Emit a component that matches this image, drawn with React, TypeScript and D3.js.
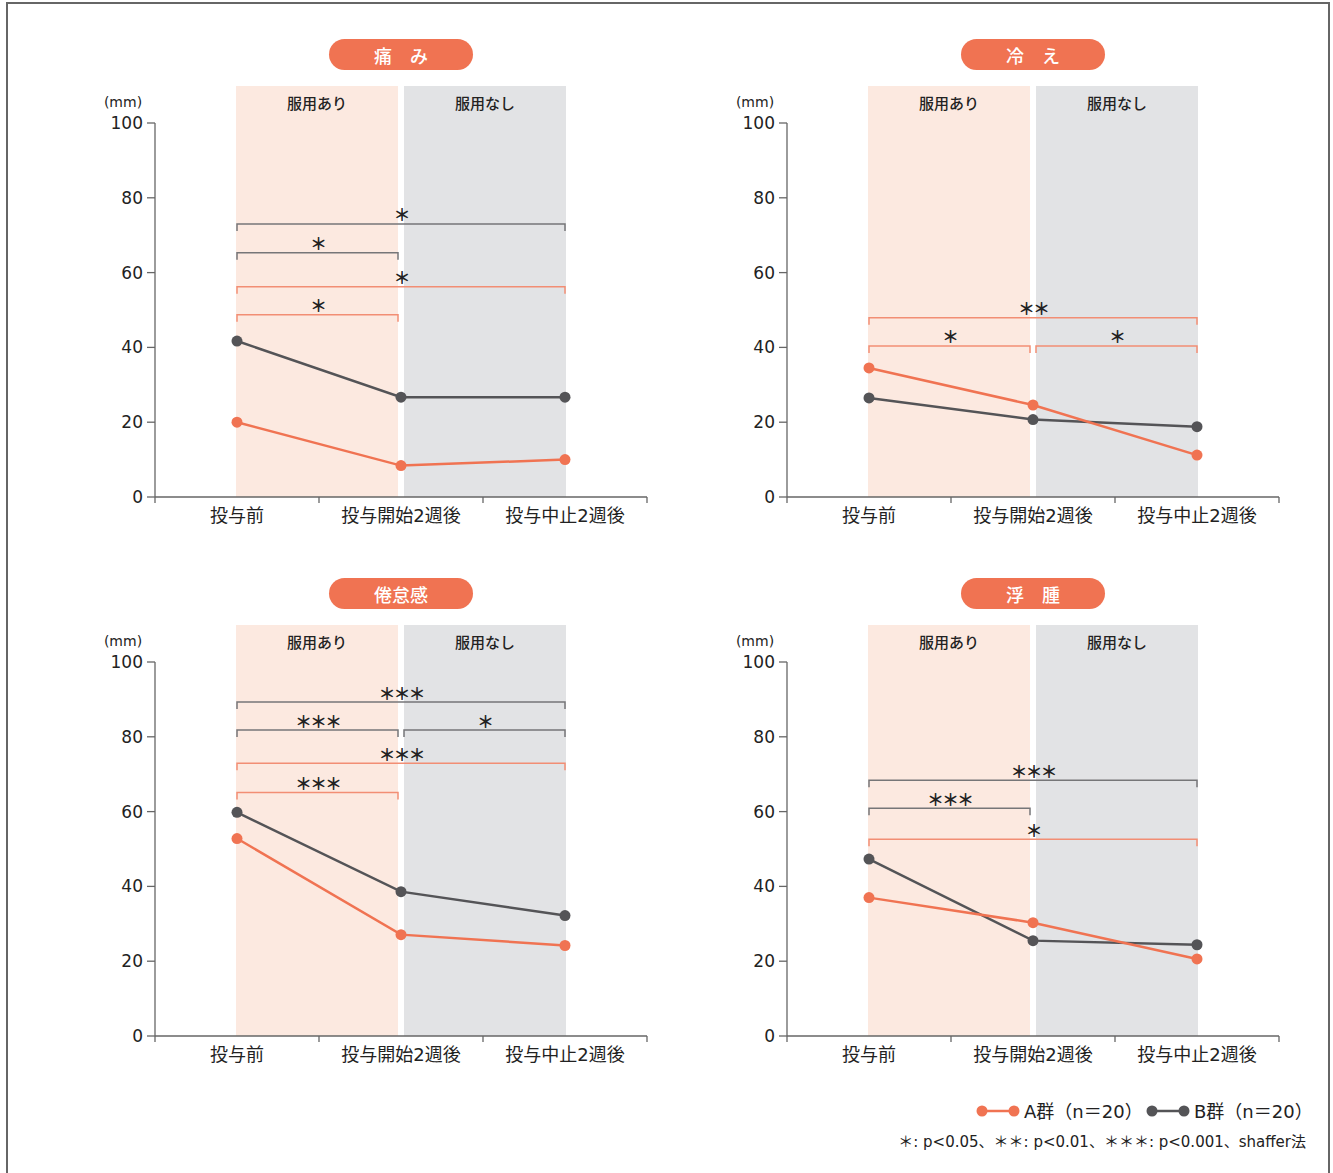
import React from "react";
import * as d3 from "d3";

const categories = ["投与前", "投与開始2週後", "投与中止2週後"];
const titles = ["痛　み", "冷　え", "倦怠感", "浮　腫"];
const phaseLabels = ["服用あり", "服用なし"];
const yTicks = [0, 20, 40, 60, 80, 100];

const groupA = [
  [20, 8.4, 10],
  [34.5, 24.6, 11.2],
  [52.8, 27.1, 24.2],
  [37, 30.3, 20.6],
];
const groupB = [
  [41.7, 26.7, 26.7],
  [26.5, 20.7, 18.8],
  [59.8, 38.6, 32.2],
  [47.3, 25.5, 24.4],
];
// [fromIndex, toIndex, level (mm), group, label]
const brackets1: [number, number, number, string, string][] = [
  [0, 2, 73, "B", "＊"],
  [0, 1, 65.3, "B", "＊"],
  [0, 2, 56.2, "A", "＊"],
  [0, 1, 48.7, "A", "＊"],
];
const brackets2: [number, number, number, string, string][] = [
  [0, 2, 47.9, "A", "＊＊"],
  [0, 1, 40.4, "A", "＊"],
  [1, 2, 40.4, "A", "＊"],
];
const brackets3: [number, number, number, string, string][] = [
  [0, 2, 89.3, "B", "＊＊＊"],
  [0, 1, 81.8, "B", "＊＊＊"],
  [1, 2, 81.8, "B", "＊"],
  [0, 2, 72.9, "A", "＊＊＊"],
  [0, 1, 65.1, "A", "＊＊＊"],
];
const brackets4: [number, number, number, string, string][] = [
  [0, 2, 68.4, "B", "＊＊＊"],
  [0, 1, 60.9, "B", "＊＊＊"],
  [0, 2, 52.6, "A", "＊"],
];
const brackets = [brackets1, brackets2, brackets3, brackets4];
const legendLabels = ["A群（n＝20）", "B群（n＝20）"];
const footnote = "＊: p<0.05、＊＊: p<0.01、＊＊＊: p<0.001、shaffer法";

const ORANGE = "#f07352";
const ORANGE_LIGHT = "#f28e74";
const DARK = "#545457";
const GRAY_BR = "#767678";
const PINK = "#fce9e0";
const GRAYBG = "#e2e3e5";
const FONT = "'DejaVu Sans', 'Noto Sans CJK JP', sans-serif";
const CJK = "'Noto Sans CJK JP', sans-serif";

function Panel({ idx, ox, oy }: { idx: number; ox: number; oy: number }) {
  const x = d3.scaleBand<string>().domain(categories).range([155 + ox, 647 + ox]).padding(0);
  const y = d3.scaleLinear().domain([0, 100]).range([497 + oy, 123 + oy]);
  const cx = (i: number) => (x(categories[i]) as number) + x.bandwidth() / 2;
  const line = d3
    .line<number>()
    .x((_, i) => cx(i))
    .y((d) => y(d));
  const shadeTop = 86 + oy;
  const pinkX0 = cx(0) - 1;
  const pinkX1 = cx(1) - 3;
  const grayX0 = cx(1) + 3;
  const grayX1 = cx(2) + 1;
  const bx = (i: number, side: "l" | "r") => {
    if (i === 1) return side === "r" ? cx(1) - 3 : cx(1) + 3;
    return cx(i);
  };
  const boundaries = [155 + ox, ...categories.map((c) => (x(c) as number) + x.bandwidth())];
  return (
    <g>
      <rect x={cx(1) - 72} y={39 + oy} width={144} height={31} rx={15.5} fill={ORANGE} />
      <text x={cx(1)} y={55 + oy} textAnchor="middle" dominantBaseline="central" fill="#fff" fontSize={18} fontWeight={500} fontFamily={CJK}>
        {titles[idx]}
      </text>
      <rect x={pinkX0} y={shadeTop} width={pinkX1 - pinkX0} height={y(0) - shadeTop} fill={PINK} />
      <rect x={grayX0} y={shadeTop} width={grayX1 - grayX0} height={y(0) - shadeTop} fill={GRAYBG} />
      <text x={(pinkX0 + pinkX1) / 2} y={102 + oy} textAnchor="middle" dominantBaseline="central" fontSize={15} fontWeight={500} fontFamily={CJK} fill="#222">
        {phaseLabels[0]}
      </text>
      <text x={(grayX0 + grayX1) / 2} y={102 + oy} textAnchor="middle" dominantBaseline="central" fontSize={15} fontWeight={500} fontFamily={CJK} fill="#222">
        {phaseLabels[1]}
      </text>
      <text x={123 + ox} y={102 + oy} textAnchor="middle" dominantBaseline="central" fontSize={14} fontFamily={FONT} fill="#222">
        (mm)
      </text>
      <line x1={155 + ox} x2={155 + ox} y1={y(100)} y2={y(0)} stroke="#666" strokeWidth={1.3} />
      {yTicks.map((t) => (
        <g key={t}>
          <line x1={147 + ox} x2={155 + ox} y1={y(t)} y2={y(t)} stroke="#666" strokeWidth={1.3} />
          <text x={143 + ox} y={y(t)} textAnchor="end" dominantBaseline="central" fontSize={17} fontFamily={FONT} fill="#222">
            {t}
          </text>
        </g>
      ))}
      <line x1={155 + ox} x2={647 + ox} y1={y(0)} y2={y(0)} stroke="#666" strokeWidth={1.3} />
      {boundaries.map((b, i) => (
        <line key={i} x1={b} x2={b} y1={y(0)} y2={y(0) + 6} stroke="#666" strokeWidth={1.3} />
      ))}
      {categories.map((c, i) => (
        <text key={c} x={cx(i)} y={y(0) + 18} textAnchor="middle" dominantBaseline="central" fontSize={18} fontFamily={FONT} fill="#222">
          {c}
        </text>
      ))}
      {brackets[idx].map(([a, b, v, g, lab], k) => {
        const x0 = bx(a, "l");
        const x1 = bx(b, "r");
        const yy = y(v);
        const col = g === "A" ? ORANGE_LIGHT : GRAY_BR;
        return (
          <g key={k}>
            <path d={`M${x0},${yy + 7}V${yy}H${x1}V${yy + 7}`} fill="none" stroke={col} strokeWidth={1.5} />
            <text x={(x0 + x1) / 2} y={yy - 10} textAnchor="middle" dominantBaseline="central" fontSize={17} fontWeight={700} letterSpacing={-2} fontFamily={CJK} fill="#222">
              {lab}
            </text>
          </g>
        );
      })}
      <path d={line(groupB[idx]) as string} fill="none" stroke={DARK} strokeWidth={2.5} />
      <path d={line(groupA[idx]) as string} fill="none" stroke={ORANGE} strokeWidth={2.5} />
      {groupB[idx].map((v, i) => (
        <circle key={"b" + i} cx={cx(i)} cy={y(v)} r={5.5} fill={DARK} />
      ))}
      {groupA[idx].map((v, i) => (
        <circle key={"a" + i} cx={cx(i)} cy={y(v)} r={5.5} fill={ORANGE} />
      ))}
    </g>
  );
}

export default function App() {
  const offsets = [
    [0, 0],
    [632, 0],
    [0, 539],
    [632, 539],
  ];
  return (
    <svg width={1333} height={1173} style={{ position: "absolute", left: 0, top: 0, background: "#fff" }}>
      <rect x={0} y={0} width={1333} height={1173} fill="#fff" />
      <rect x={7} y={3} width={1322} height={1200} fill="none" stroke="#666" strokeWidth={2} />
      {offsets.map(([ox, oy], i) => (
        <Panel key={i} idx={i} ox={ox} oy={oy} />
      ))}
      <g>
        <line x1={982} x2={1014} y1={1111} y2={1111} stroke={ORANGE} strokeWidth={2.5} />
        <circle cx={982} cy={1111} r={5.5} fill={ORANGE} />
        <circle cx={1014} cy={1111} r={5.5} fill={ORANGE} />
        <text x={1024} y={1111} dominantBaseline="central" fontSize={18} fontFamily={FONT} fill="#222">
          {legendLabels[0]}
        </text>
        <line x1={1152} x2={1184} y1={1111} y2={1111} stroke={DARK} strokeWidth={2.5} />
        <circle cx={1152} cy={1111} r={5.5} fill={DARK} />
        <circle cx={1184} cy={1111} r={5.5} fill={DARK} />
        <text x={1194} y={1111} dominantBaseline="central" fontSize={18} fontFamily={FONT} fill="#222">
          {legendLabels[1]}
        </text>
        <text x={1306} y={1142} textAnchor="end" dominantBaseline="central" fontSize={15} fontFamily={FONT} fill="#222">
          {footnote}
        </text>
      </g>
    </svg>
  );
}
